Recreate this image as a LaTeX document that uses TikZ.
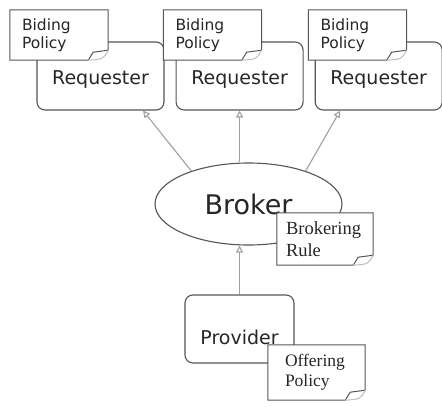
\documentclass[tikz,border=0pt]{standalone}
\usepackage{fontspec}
\setmainfont{Liberation Serif}
\setsansfont{DejaVu Sans}
\usetikzlibrary{arrows.meta,positioning,shapes.geometric}
\definecolor{brkLine}{HTML}{555555}
\definecolor{brkArrow}{HTML}{A0A0A0}
\definecolor{brkText}{HTML}{262626}

\begin{document}
\begin{tikzpicture}[x=1pt,y=-1pt,
  reqbox/.style={draw=brkLine,line width=1.1pt,rounded corners=8pt,
                 minimum width=127pt,minimum height=68pt,text=brkText,
                 font=\sffamily\fontsize{19}{22}\selectfont,
                 text height=21pt,text depth=4pt},
  notecard/.style={fill=white,inner sep=0pt,align=left,text=brkText},
  bidnote/.style={notecard,minimum width=98pt,minimum height=50pt,text width=74pt,
                  font=\sffamily\fontsize{15.5}{18}\selectfont},
  serifnote/.style={notecard,font=\rmfamily\fontsize{18.5}{22}\selectfont},
  flow/.style={draw=brkArrow,line width=1.1pt,-{Triangle[open,length=7pt,width=7pt]}},
  fold/.style={draw=brkLine,line width=1pt}]
  \useasboundingbox (0,0) rectangle (442,407);

  \node[reqbox] (r1) at (100.5,76) {Requester};
  \node[reqbox,right=11pt of r1] (r2) {Requester};
  \node[reqbox,right=11pt of r2] (r3) {Requester};
  \node[bidnote] (n1) at (59,35) {Biding\\Policy};
  \node[bidnote] (n2) at (212.5,35) {Biding\\Policy};
  \node[bidnote] (n3) at (357.5,35) {Biding\\Policy};

  \node[ellipse,draw=brkLine,line width=1.1pt,minimum width=187pt,minimum height=82pt,
        inner sep=0pt,text=brkText,font=\sffamily\fontsize{27}{30}\selectfont]
        (broker) at (248.5,204) {Broker};
  \node[serifnote,minimum width=96pt,minimum height=52pt,text width=78pt]
        (rule) at (325,239) {Brokering\\Rule};

  \node[reqbox,minimum width=109pt,text height=35pt] (provider) at (239.5,329) {Provider};
  \node[serifnote,minimum width=97pt,minimum height=55pt,text width=63pt,
        font=\rmfamily\fontsize{17.5}{20}\selectfont]
        (offer) at (316.5,372.5) {Offering\\Policy};

  \draw[flow] (broker.150) -- ([xshift=42.5pt]r1.south);
  \draw[flow] (broker.north -| r2.south) -- (r2.south);
  \draw[flow] (broker.30) -- ([xshift=-38.5pt]r3.south);
  \draw[flow] (provider.north) -- (provider.north |- broker.south);

  \foreach \n in {n1,n2,n3,rule,offer}{
    \draw[fold] (\n.south west) -- (\n.north west) -- (\n.north east)
      -- ([yshift=10pt]\n.south east) -- ([xshift=-15pt,yshift=8pt]\n.south east)
      -- ([xshift=-20pt]\n.south east) -- cycle;
    \draw[fold,draw=brkArrow!70] ([yshift=10pt]\n.south east)
      .. controls ([xshift=-5pt,yshift=1pt]\n.south east) .. ([xshift=-20pt]\n.south east);
  }
\end{tikzpicture}
\end{document}
